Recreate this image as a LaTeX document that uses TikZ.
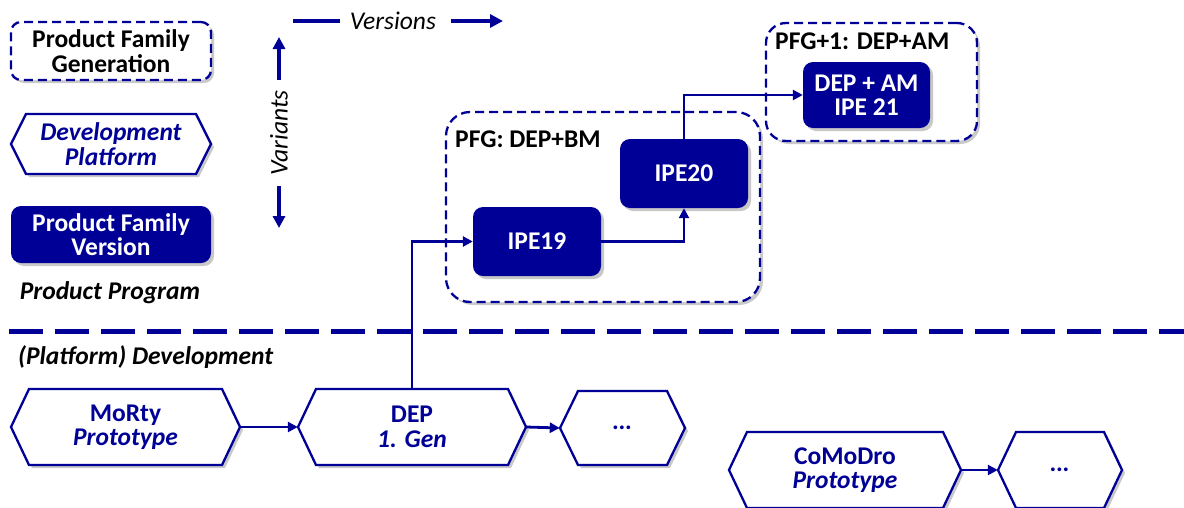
\documentclass[tikz,border=0pt]{standalone}
\usepackage{fontspec}
\setmainfont{Carlito}
\usetikzlibrary{arrows.meta,shadows,calc}
\definecolor{db}{RGB}{0,0,150}
\newcommand\hexa[7]{%
  \path[hexline] (#2,{(#3+#5)/2}) -- ({#2+#6},#3) -- ({#4-#6},#3) -- (#4,{(#3+#5)/2}) -- ({#4-#6},#5) -- ({#2+#6},#5) -- cycle;
  \node[text=db, minimum width={#4-#2}, minimum height={#5-#3}] (#1) at ({(#2+#4)/2},{(#3+#5)/2}) {#7};
}
\begin{document}
\begin{tikzpicture}[x=1pt,y=-1pt,
  every node/.style={font=\fontsize{25.5}{24.5}\selectfont\bfseries, align=center, inner sep=0pt},
  shad/.style={drop shadow={shadow xshift=3pt,shadow yshift=-3pt,opacity=0.3,fill=black!70}},
  pfv/.style={rounded corners=10pt, fill=db, text=white, shad},
  pfg/.style={draw=db, line width=2.3pt, dash pattern=on 9pt off 5pt, fill=white, shad},
  hexline/.style={draw=db, line width=2.3pt, fill=white, shad},
  conn/.style={draw=db, line width=2.8pt, -{Triangle[length=10pt,width=10pt]}},
  bigarrow/.style={draw=db, line width=4pt},
  lbl/.style={text=black},
]
\useasboundingbox (0,0) rectangle (1184,507);

% legend
\node[pfg, rounded corners=10pt, minimum width=200pt, minimum height=58pt] (lgen) at (111,51) {Product Family\\Generation};
\hexa{lplat}{11}{114}{211}{174}{15}{\itshape Development\\\itshape Platform}
\node[pfv, minimum width=200pt, minimum height=57pt] (lver) at (111,234.5) {Product Family\\Version};
\node[lbl, font=\fontsize{25.5}{24.5}\selectfont\bfseries\itshape] (pprog) at (110,293) {Product Program};

% versions / variants
\node[lbl, font=\fontsize{25.5}{24.5}\selectfont\itshape] (vers) at (393,21) {Versions};
\coordinate (v1) at (293,21); \coordinate (v2) at (340,21);
\coordinate (v3) at (451,21); \coordinate (v4) at (503,21);
\draw[bigarrow] (v1) -- (v2);
\draw[bigarrow, -{Triangle[length=13pt,width=13pt]}] (v3) -- (v4);
\node[lbl, rotate=90, font=\fontsize{25.5}{24.5}\selectfont\itshape] (vari) at (279,133) {Variants};
\coordinate (u1) at (279,80); \coordinate (u2) at (279,37);
\coordinate (d1) at (279,186); \coordinate (d2) at (279,228);
\draw[draw=db, line width=3.5pt, -{Triangle[length=12pt,width=12pt]}] (u1) -- (u2);
\draw[draw=db, line width=3.5pt, -{Triangle[length=12pt,width=12pt]}] (d1) -- (d2);

% separator
\coordinate (sepL) at (9,331); \coordinate (sepR) at (1184,331);
\draw[db, line width=5pt, dash pattern=on 34pt off 12pt] (sepL) -- (sepR);
\node[lbl, anchor=west, font=\fontsize{25.5}{24.5}\selectfont\bfseries\itshape] (pdev) at (18,357) {(Platform) Development};

% product family generations
\node[pfg, rounded corners=24pt, minimum width=314pt, minimum height=190pt] (pfg1) at (603,207) {};
\node[lbl, anchor=west] (pfg1l) at (455,139) {PFG: DEP+BM};
\node[pfg, rounded corners=20pt, minimum width=211pt, minimum height=118pt] (pfg2) at (871.5,82) {};
\node[lbl, anchor=west] (pfg2l) at (775,41) {PFG+1: DEP+AM};

\node[pfv, minimum width=128pt, minimum height=69pt] (ipe19) at (537,241.5) {IPE19};
\node[pfv, minimum width=128pt, minimum height=69pt] (ipe20) at (684,173.5) {IPE20};
\node[pfv, minimum width=127pt, minimum height=66pt] (ipe21) at (866.5,95) {DEP + AM\\IPE 21};

% development platforms
\hexa{morty}{11}{389}{240}{465}{18}{MoRty\\\itshape Prototype}
\hexa{dep}{298}{389}{526}{465}{18}{DEP\\\itshape 1. Gen}
\hexa{dots1}{560}{391}{685}{465}{18}{\itshape …}
\hexa{como}{729}{432}{961}{508}{18}{CoMoDro\\\itshape Prototype}
\hexa{dots2}{998}{432}{1122}{508}{18}{\itshape …}

% connectors
\draw[conn] (morty.east) -- (dep.west);
\draw[conn] (dep.east) -- (dots1.west);
\draw[conn] (como.east) -- (dots2.west);
\draw[conn] (dep.north) |- (ipe19.west);
\draw[conn] (ipe19.east) -| (ipe20.south);
\draw[conn] (ipe20.north) |- (ipe21.west);
\end{tikzpicture}
\end{document}
